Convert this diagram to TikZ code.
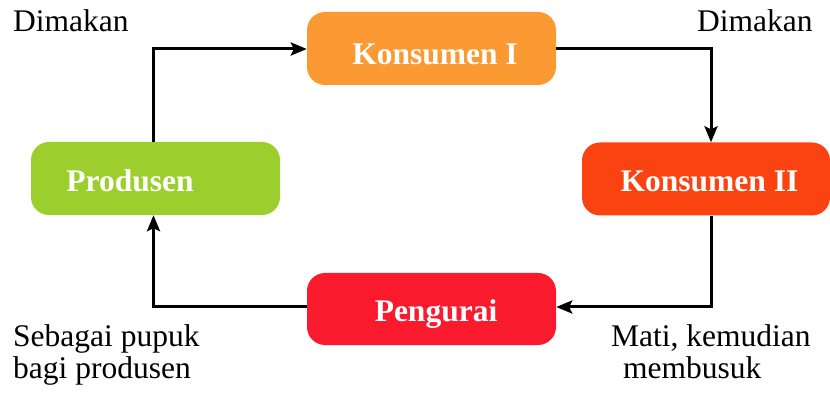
\documentclass[tikz,border=0pt]{standalone}
\usepackage{fontspec}
\setmainfont{LiberationSerif}[Extension=.ttf, UprightFont=*-Regular, BoldFont=*-Bold, ItalicFont=*-Italic, BoldItalicFont=*-BoldItalic]
\usetikzlibrary{arrows.meta}

\definecolor{konsA}{HTML}{FB9A33}
\definecolor{prodG}{HTML}{9CCF2E}
\definecolor{konsB}{HTML}{FB4312}
\definecolor{urai}{HTML}{FA1A2E}

\tikzset{
  stage/.style={rounded corners=18pt, inner sep=0pt, minimum width=249pt, minimum height=73pt},
  stagetext/.style={text=white, font=\fontsize{31.5}{36}\selectfont\bfseries, inner sep=0pt, anchor=base},
  lbl/.style={font=\fontsize{31.5}{36}\selectfont, inner sep=0pt, anchor=base west},
  flow/.style={line width=3pt, -{Stealth[length=16pt, width=13pt, inset=3pt]}}
}

\begin{document}
\begin{tikzpicture}[x=1pt, y=-1pt]
  \useasboundingbox (0,0) rectangle (830,395);

  % stage boxes
  \node[stage, fill=konsA] (k1)   at (431.5, 48.5) {};
  \node[stage, fill=prodG] (prod) at (155.5, 178.5) {};
  \node[stage, fill=konsB, minimum width=248pt] (k2) at (706, 179) {};
  \node[stage, fill=urai, minimum height=72pt] (peng) at (431.5, 309) {};

  % box captions
  \node[stagetext] (tk1)   at (435, 65)  {Konsumen I};
  \node[stagetext] (tprod) at (130, 192) {Produsen};
  \node[stagetext] (tk2)   at (709.5, 192) {Konsumen II};
  \node[stagetext] (tpeng) at (436, 322) {Pengurai};

  % cycle connectors
  \coordinate (pTop) at ([xshift=-2pt]prod.north);
  \coordinate (pBot) at ([xshift=-2pt]prod.south);
  \coordinate (kTop) at ([xshift=5pt]k2.north);
  \coordinate (kBot) at ([xshift=5pt]k2.south);
  \draw[flow] (pTop) |- ([yshift=-0.5pt]k1.west);
  \draw[flow] ([yshift=-0.5pt]k1.east) -| (kTop);
  \draw[flow] (kBot) |- ([yshift=2pt]peng.east);
  \draw[flow] ([yshift=2pt]peng.west) -| (pBot);

  % connector labels
  \node[lbl] (d1) at (13, 32)  {Dimakan};
  \node[lbl] (d2) at (697, 32) {Dimakan};
  \node[lbl] (s1) at (13, 346) {Sebagai pupuk};
  \node[lbl] (s2) at (13, 378) {bagi produsen};
  \node[lbl] (m1) at (611, 346) {Mati, kemudian};
  \node[lbl] (m2) at (623, 378) {membusuk};
\end{tikzpicture}
\end{document}
